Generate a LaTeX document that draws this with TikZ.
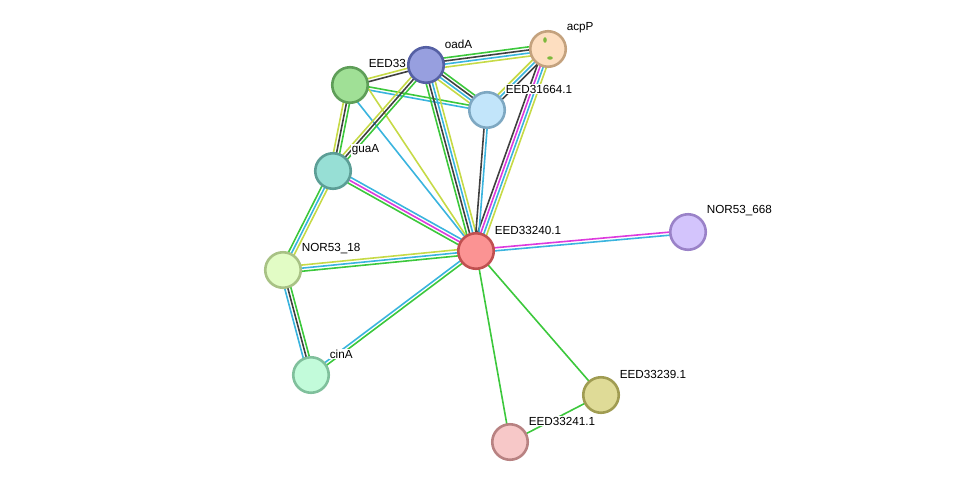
\documentclass[tikz,border=0pt]{standalone}
\usepackage{fontspec}
\setmainfont{Liberation Sans}
\usetikzlibrary{calc}
\pgfdeclarelayer{edgelayer}
\pgfdeclarelayer{labellayer}
\pgfsetlayers{edgelayer,labellayer,main}
\definecolor{sgreen}{HTML}{3CC83C}
\definecolor{sblack}{HTML}{404040}
\definecolor{scyan}{HTML}{3AB4DE}
\definecolor{syellow}{HTML}{C6DA46}
\definecolor{smag}{HTML}{DD3ADD}
\definecolor{fg33}{HTML}{A0E096}\definecolor{bg33}{HTML}{5E9E58}
\definecolor{foad}{HTML}{979FDF}\definecolor{boad}{HTML}{5560A4}
\definecolor{facp}{HTML}{FDDEC0}\definecolor{bacp}{HTML}{C4A27E}
\definecolor{f316}{HTML}{C2E5FA}\definecolor{b316}{HTML}{7EA8C2}
\definecolor{fgua}{HTML}{97DFD5}\definecolor{bgua}{HTML}{5C9E96}
\definecolor{fmain}{HTML}{FB9393}\definecolor{bmain}{HTML}{C05050}
\definecolor{f668}{HTML}{D3C4FC}\definecolor{b668}{HTML}{9A82C8}
\definecolor{f18}{HTML}{E2FCC5}\definecolor{b18}{HTML}{A8C285}
\definecolor{fcin}{HTML}{C2FBDA}\definecolor{bcin}{HTML}{80C09C}
\definecolor{f239}{HTML}{DFDB97}\definecolor{b239}{HTML}{A09C52}
\definecolor{f241}{HTML}{F7C8C8}\definecolor{b241}{HTML}{B88282}
\definecolor{sgl}{HTML}{7DB83C}
\newcommand\esp{3.1}
\newcommand\medge[4]{%
  \foreach \cc [count=\ii] in {#4}{%
    \pgfmathsetmacro\off{(\ii-(#3+1)/2)*\esp}%
    \draw[elin,\cc] ($(#1)!\off pt!90:(#2)$) -- ($(#2)!\off pt!-90:(#1)$);}}
\tikzset{
  prot/.style 2 args={circle, inner sep=0pt, minimum size=35.5pt, line width=2.6pt, fill=#1, draw=#2},
  lab/.style={anchor=west, fill=white, inner sep=0.6pt, font=\fontsize{11.7}{13}\selectfont, text=black},
  elin/.style={line width=1.6pt},
}
\begin{document}
\begin{tikzpicture}[x=1pt,y=-1pt]
\path[use as bounding box] (0,0) rectangle (976,488);
% proteins
\node[prot={fg33}{bg33}] (g33) at (350,85) {};
\node[prot={foad}{boad}] (oadA) at (426,65) {};
\node[prot={facp}{bacp}] (acpP) at (548,49) {};
\node[prot={f316}{b316}] (e31664) at (487,110) {};
\node[prot={fgua}{bgua}] (guaA) at (333,171) {};
\node[prot={fmain}{bmain}] (main) at (476,251) {};
\node[prot={f668}{b668}] (n668) at (688,232) {};
\node[prot={f18}{b18}] (n18) at (283,270) {};
\node[prot={fcin}{bcin}] (cinA) at (311,375) {};
\node[prot={f239}{b239}] (e239) at (601,395) {};
\node[prot={f241}{b241}] (e241) at (510,442) {};
% small structure marks inside acpP
\fill[sgl] ($(acpP)+(-3,-9)$) ellipse (1.8pt and 2.8pt);
\fill[sgl] ($(acpP)+(2,9)$) ellipse (2.8pt and 1.7pt);
% labels
\begin{pgfonlayer}{labellayer}
\node[lab] (lg33) at ($(g33)+(18,-22)$) {EED33};
\node[lab] (loadA) at ($(oadA)+(18,-21)$) {oadA};
\node[lab] (lacpP) at ($(acpP)+(18,-21)$) {acpP};
\node[lab] (le31664) at ($(e31664)+(18,-21)$) {EED31664.1};
\node[lab] (lguaA) at ($(guaA)+(18,-21)$) {guaA};
\node[lab] (lmain) at ($(main)+(18,-21)$) {EED33240.1};
\node[lab] (ln668) at ($(n668)+(18,-21)$) {NOR53\_668};
\node[lab] (ln18) at ($(n18)+(18,-21)$) {NOR53\_18};
\node[lab] (lcinA) at ($(cinA)+(18,-21)$) {cinA};
\node[lab] (le239) at ($(e239)+(18,-21)$) {EED33239.1};
\node[lab] (le241) at ($(e241)+(18,-21)$) {EED33241.1};
\end{pgfonlayer}
% edges
\begin{pgfonlayer}{edgelayer}
\medge{g33}{oadA}{2}{sblack,syellow}
\medge{g33}{e31664}{2}{scyan,sgreen}
\medge{g33}{guaA}{3}{syellow,sblack,sgreen}
\draw[elin,scyan] ($(g33)+(-6,0)$) -- (main);
\draw[elin,syellow] ($(g33)+(16,0)$) -- (main);
\medge{oadA}{acpP}{4}{syellow,scyan,sblack,sgreen}
\medge{oadA}{e31664}{4}{syellow,scyan,sblack,sgreen}
\medge{oadA}{guaA}{3}{syellow,sblack,sgreen}
\medge{oadA}{main}{4}{sgreen,sblack,scyan,syellow}
\medge{acpP}{e31664}{3}{syellow,scyan,sblack}
\medge{acpP}{main}{4}{sblack,smag,scyan,syellow}
\medge{e31664}{main}{2}{sblack,scyan}
\medge{guaA}{main}{3}{sgreen,smag,scyan}
\medge{guaA}{n18}{3}{sgreen,scyan,syellow}
\medge{n18}{main}{3}{sgreen,scyan,syellow}
\medge{n18}{cinA}{3}{scyan,sblack,sgreen}
\medge{cinA}{main}{2}{sgreen,scyan}
\medge{main}{n668}{2}{scyan,smag}
\medge{main}{e239}{1}{sgreen}
\medge{main}{e241}{1}{sgreen}
\medge{e239}{e241}{1}{sgreen}
\end{pgfonlayer}
\end{tikzpicture}
\end{document}
